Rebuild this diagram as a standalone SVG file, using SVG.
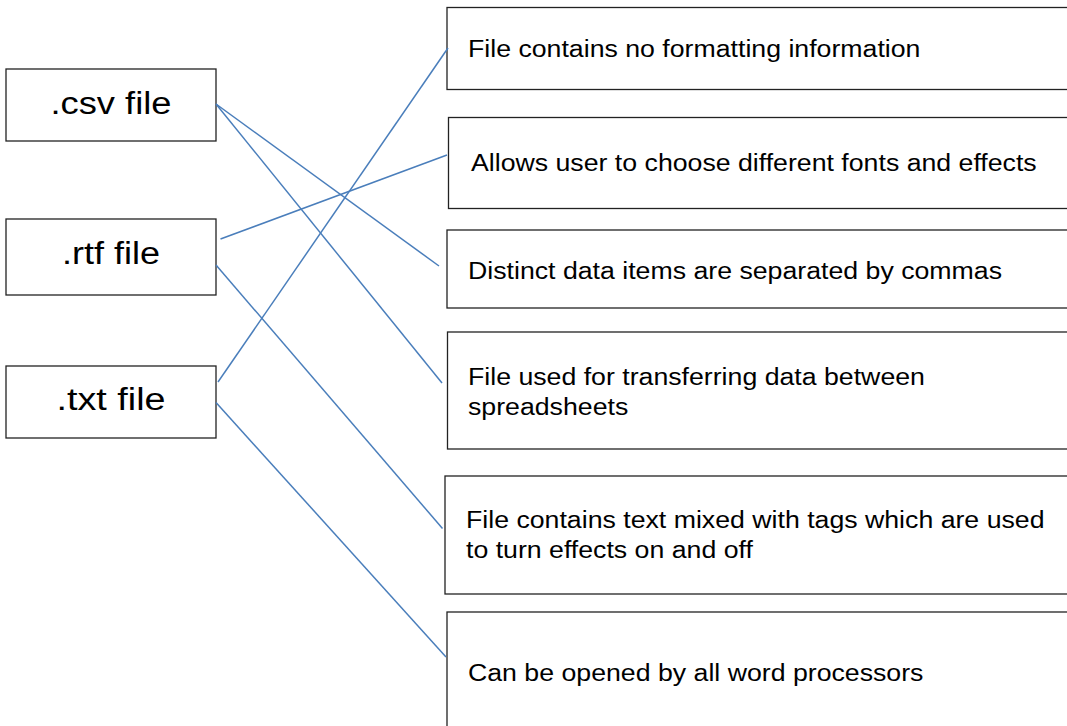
<svg xmlns="http://www.w3.org/2000/svg" width="1067" height="726" viewBox="0 0 1067 726">
<style>
.box{fill:#fff;stroke:#222;stroke-width:1.3}
.lbl{font-family:"Liberation Sans",Arial,sans-serif;font-size:31px;fill:#000;text-anchor:middle}
.txt{font-family:"Liberation Sans",Arial,sans-serif;font-size:24.5px;fill:#000}
.con line{stroke:#4a7ebb;stroke-width:1.5;fill:none}
</style>
<rect width="1067" height="726" fill="#fff"/>
<g id="n-csv"><rect class="box" x="6" y="69" width="210" height="72"/><text class="lbl" x="111" y="113.5" textLength="121" lengthAdjust="spacingAndGlyphs">.csv file</text></g>
<g id="n-rtf"><rect class="box" x="6" y="219" width="210" height="76"/><text class="lbl" x="111" y="264" textLength="98" lengthAdjust="spacingAndGlyphs">.rtf file</text></g>
<g id="n-txt"><rect class="box" x="6" y="366" width="210" height="72"/><text class="lbl" x="111" y="410" textLength="109" lengthAdjust="spacingAndGlyphs">.txt file</text></g>
<g id="r1"><rect class="box" x="447" y="7.5" width="625" height="82"/><text class="txt" transform="translate(468 56.7) scale(1.09 1)">File contains no formatting information</text></g>
<g id="r2"><rect class="box" x="448.5" y="117.5" width="625" height="91"/><text class="txt" transform="translate(471 170.5) scale(1.09 1)">Allows user to choose different fonts and effects</text></g>
<g id="r3"><rect class="box" x="447" y="230" width="625" height="78"/><text class="txt" transform="translate(468 279) scale(1.09 1)">Distinct data items are separated by commas</text></g>
<g id="r4"><rect class="box" x="447.5" y="332" width="625" height="117"/><text class="txt" transform="translate(468 385) scale(1.09 1)">File used for transferring data between</text><text class="txt" transform="translate(468 414.5) scale(1.09 1)">spreadsheets</text></g>
<g id="r5"><rect class="box" x="445" y="476" width="625" height="118"/><text class="txt" transform="translate(466 528) scale(1.09 1)">File contains text mixed with tags which are used</text><text class="txt" transform="translate(466 557.5) scale(1.09 1)">to turn effects on and off</text></g>
<g id="r6"><rect class="box" x="447" y="612" width="625" height="130"/><text class="txt" transform="translate(468 680.5) scale(1.09 1)">Can be opened by all word processors</text></g>
<g id="connectors" class="con">
<line x1="216" y1="104" x2="439" y2="266"/>
<line x1="216" y1="104" x2="442" y2="383"/>
<line x1="220.5" y1="239" x2="447" y2="155"/>
<line x1="216" y1="265" x2="442.5" y2="528.5"/>
<line x1="218" y1="382" x2="448" y2="48"/>
<line x1="216" y1="402.5" x2="446" y2="657"/>
</g>
</svg>
